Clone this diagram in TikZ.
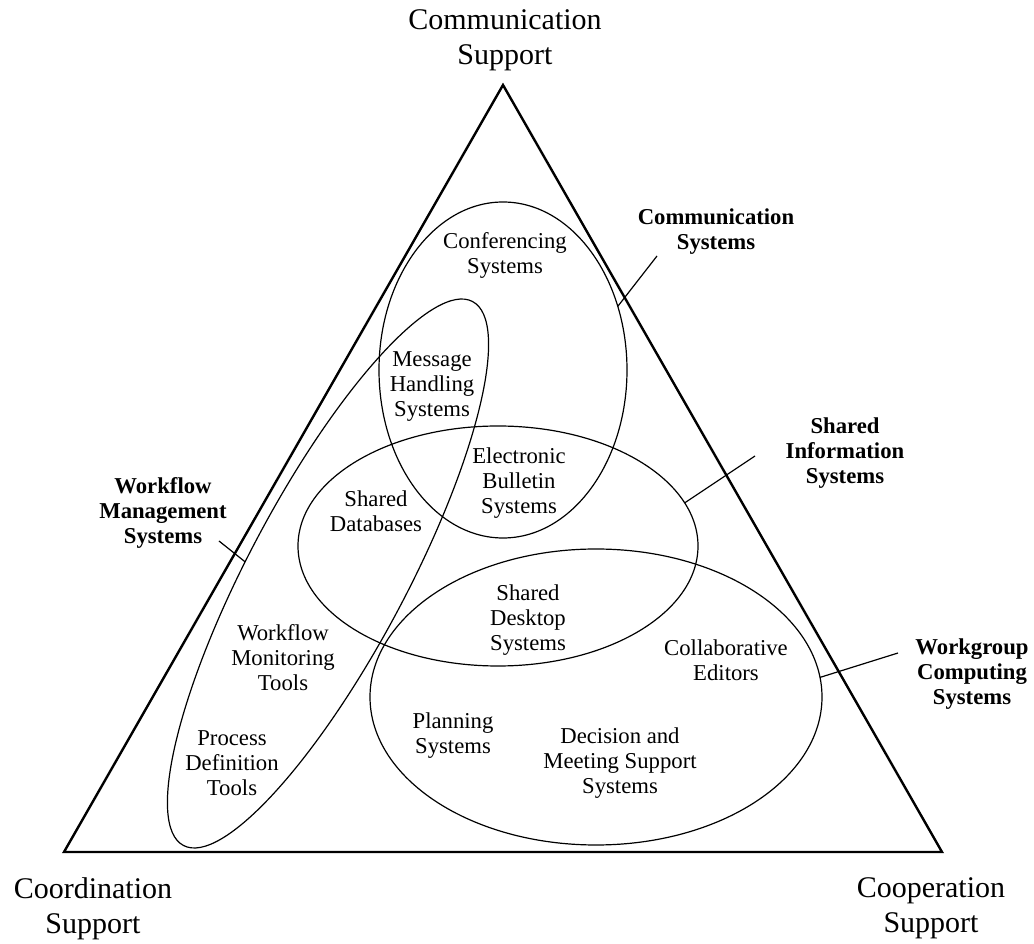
\documentclass[tikz,border=0pt]{standalone}
\usepackage{fontspec}
\setmainfont{Liberation Serif}
\usetikzlibrary{shapes.geometric}

\begin{document}
\begin{tikzpicture}[x=1pt, y=1pt,
    set/.style={draw, ellipse, line width=1.2pt, inner sep=0pt, outer sep=0pt},
    txt/.style={align=center, font=\fontsize{22.7}{25}\selectfont},
    head/.style={align=center, font=\fontsize{22.7}{25}\selectfont\bfseries},
    corner/.style={align=center, font=\fontsize{30}{35}\selectfont},
    leader/.style={line width=1.2pt}]
\useasboundingbox (0,0) rectangle (1034,943);

\coordinate (top)   at (503,858);
\coordinate (left)  at (64,91);
\coordinate (right) at (942,91);
\draw[line width=2.4pt] (top) -- (left) -- (right) -- cycle;

\node[corner] (comm)  at (505,903)  {Communication\\Support};
\node[corner] (coord) at (93,34.5)  {Coordination\\Support};
\node[corner] (coop)  at (931,34.5) {Cooperation\\Support};

\node[set, minimum width=248pt, minimum height=336pt] (cs)  at (503,573) {};
\node[set, minimum width=400pt, minimum height=240pt] (sis) at (498,397) {};
\node[set, minimum width=452pt, minimum height=296pt] (wcs) at (596,246) {};
\node[set, minimum width=616pt, minimum height=158pt, rotate=62] (wfm) at (328,369.5) {};

\node[txt] (conf) at (505,687.5) {Conferencing\\Systems};
\node[txt] (mhs)  at (432,556)   {Message\\Handling\\Systems};
\node[txt] (ebs)  at (519,460)   {Electronic\\Bulletin\\Systems};
\node[txt] (sdb)  at (376,432)   {Shared\\Databases};
\node[txt] (sds)  at (528,323)   {Shared\\Desktop\\Systems};
\node[txt] (ced)  at (726,282.5) {Collaborative\\Editors};
\node[txt] (plan) at (453,207.5) {Planning\\Systems};
\node[txt] (dms)  at (620,180)   {Decision and\\Meeting Support\\Systems};
\node[txt] (wmt)  at (283,285)   {Workflow\\Monitoring\\Tools};
\node[txt] (pdt)  at (232,180)   {Process\\Definition\\Tools};

\node[head] (csl)  at (716,711.5) {Communication\\Systems};
\node[head] (sisl) at (845,490)   {Shared\\Information\\Systems};
\node[head] (wcsl) at (972,269)   {Workgroup\\Computing\\Systems};
\node[head] (wfml) at (163,430)   {Workflow\\Management\\Systems};

\coordinate (cs end)  at (657,687);
\coordinate (sis end) at (755,487);
\coordinate (wcs end) at (898,290);
\coordinate (wfm end) at (219,402);
\path[leader]
    (cs.29)      edge (cs end)
    (sis.13.8)   edge (sis end)
    (wcs.5.3)    edge (wcs end)
    (wfm.110.3)  edge (wfm end);
\end{tikzpicture}
\end{document}
